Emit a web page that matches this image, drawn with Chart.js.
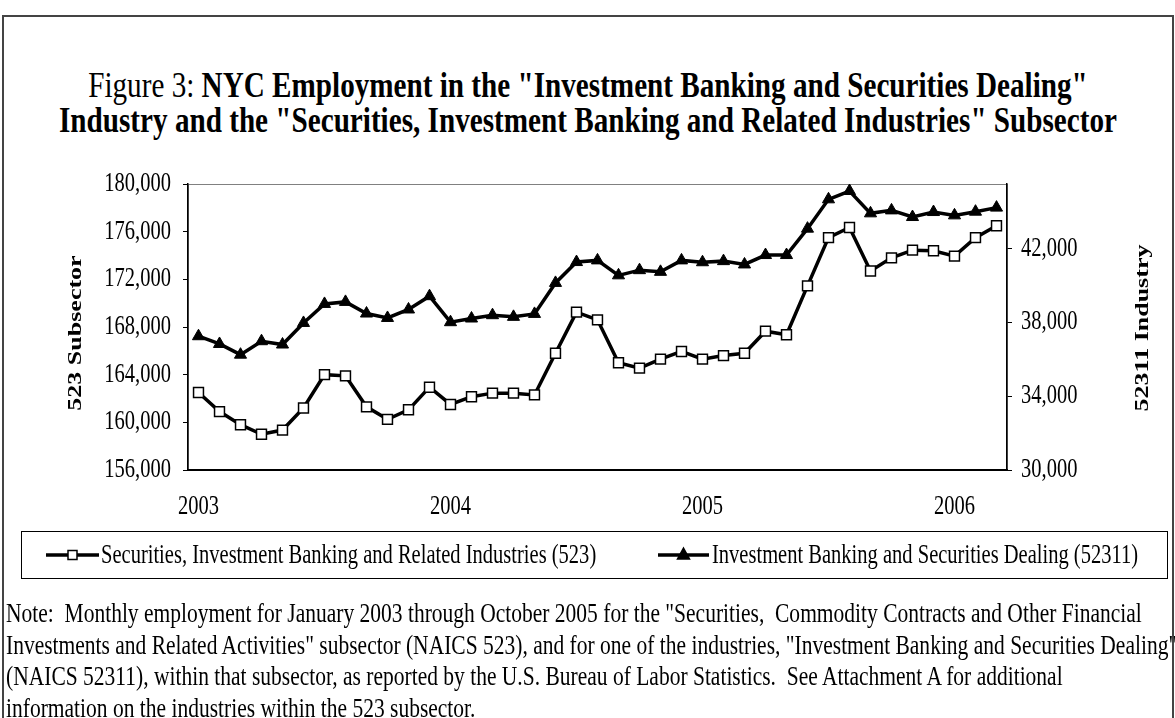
<!DOCTYPE html>
<html>
<head>
<meta charset="utf-8">
<script src="https://cdn.jsdelivr.net/npm/chart.js@4/dist/chart.umd.min.js"></script>
<style>
  html, body { margin: 0; padding: 0; background: #fff; }
  #page { position: relative; width: 1175px; height: 718px; overflow: hidden; font-family: "Liberation Serif", "Times New Roman", serif; color: #000; }
  #frame { position: absolute; left: 2px; top: 15px; width: 1168px; height: 720px; border: 2px solid #444; }
  #title { position: absolute; left: 588px; top: 68px; white-space: nowrap; text-align: center; font-size: 36px; line-height: 35px; font-weight: bold; transform: translateX(-50%) scaleX(0.81); }
  #title .plain { font-weight: normal; }
  #note { position: absolute; left: 6px; top: 597px; font-size: 28px; line-height: 31.5px; white-space: pre; transform: scaleX(0.768); transform-origin: left top; }
  #chart { position: absolute; left: 0; top: 0; }
</style>
</head>
<body>
<div id="page">
  <div id="frame"></div>
  <div id="title"><span class="plain">Figure 3: </span>NYC Employment in the "Investment Banking and Securities Dealing"<br>Industry and the "Securities, Investment Banking and Related Industries" Subsector</div>
  <canvas id="chart" width="1175" height="718"></canvas>
  <div id="note">Note:  Monthly employment for January 2003 through October 2005 for the "Securities,  Commodity Contracts and Other Financial
Investments and Related Activities" subsector (NAICS 523), and for one of the industries, "Investment Banking and Securities Dealing"
(NAICS 52311), within that subsector, as reported by the U.S. Bureau of Labor Statistics.  See Attachment A for additional
information on the industries within the 523 subsector.</div>
</div>

<script>
const months = [
    'Jan 2003', 'Feb 2003', 'Mar 2003', 'Apr 2003', 'May 2003', 'Jun 2003', 'Jul 2003', 'Aug 2003', 'Sep 2003', 'Oct 2003', 'Nov 2003', 'Dec 2003',
    'Jan 2004', 'Feb 2004', 'Mar 2004', 'Apr 2004', 'May 2004', 'Jun 2004', 'Jul 2004', 'Aug 2004', 'Sep 2004', 'Oct 2004', 'Nov 2004', 'Dec 2004',
    'Jan 2005', 'Feb 2005', 'Mar 2005', 'Apr 2005', 'May 2005', 'Jun 2005', 'Jul 2005', 'Aug 2005', 'Sep 2005', 'Oct 2005', 'Nov 2005', 'Dec 2005',
    'Jan 2006', 'Feb 2006', 'Mar 2006'
];
const yearLabels = ['2003', '2004', '2005', '2006'];
const leftTicks = [156000, 160000, 164000, 168000, 172000, 176000, 180000];
const rightTicks = [30000, 34000, 38000, 42000];

// 523 subsector, left axis
const subsector523 = [
    162500, 160900, 159800, 159000, 159350, 161200, 164000, 163900, 161300, 160250, 161050, 162950,
    161500, 162150, 162450, 162450, 162300, 165800, 169250, 168600, 165000, 164550, 165300, 165950,
    165300, 165600, 165800, 167650, 167350, 171450, 175500, 176350, 172700, 173800, 174450, 174400,
    173950, 175500, 176500
];
// 52311 industry, right axis
const industry52311 = [
    37250, 36830, 36250, 36980, 36800, 37970, 39000, 39110, 38480, 38240, 38700, 39420,
    38010, 38210, 38390, 38300, 38460, 40140, 41270, 41360, 40550, 40830, 40740, 41360,
    41260, 41320, 41140, 41650, 41650, 43080, 44670, 45120, 43910, 44070, 43710, 43980,
    43800, 44000, 44220
];

const seriesNames = [
    'Securities, Investment Banking and Related Industries (523)',
    'Investment Banking and Securities Dealing (52311)'
];
const leftTitle = '523 Subsector';
const rightTitle = '52311 Industry';

const serif = '"Liberation Serif", "Times New Roman", serif';
const tickFont = { family: serif, size: 27 };

// the source draws its text narrow: squeeze every canvas string sideways
const SX = 0.76;
const canvas = document.getElementById('chart');
const ctx2d = canvas.getContext('2d');
const baseFillText = ctx2d.fillText;
ctx2d.fillText = function (text, x, y, maxWidth) {
    const m = this.getTransform();
    const p = m.transformPoint(new DOMPoint(x, y));
    this.save();
    this.setTransform(SX, 0, 0, 1, p.x * (1 - SX), 0);
    this.transform(m.a, m.b, m.c, m.d, m.e, m.f);
    if (maxWidth === undefined) baseFillText.call(this, text, x, y);
    else baseFillText.call(this, text, x, y, maxWidth);
    this.restore();
};

// plot frame, axis titles and the boxed legend
const extras = {
    id: 'extras',
    beforeDraw(chart) {
        const { ctx, chartArea: a } = chart;
        ctx.save();
        ctx.strokeStyle = '#808080';
        ctx.lineWidth = 1;
        ctx.strokeRect(a.left + 0.5, a.top + 0.5, a.right - a.left, a.bottom - a.top);
        ctx.restore();
    },
    afterDraw(chart) {
        const ctx = chart.ctx;
        ctx.save();
        ctx.fillStyle = '#000';
        ctx.font = 'bold 26px ' + serif;
        ctx.textAlign = 'center';
        ctx.textBaseline = 'middle';
        [[76, 333, leftTitle], [1143, 328, rightTitle]].forEach(([x, y, t]) => {
            ctx.save();
            ctx.translate(x, y);
            ctx.rotate(-Math.PI / 2);
            ctx.fillText(t, 0, 0);
            ctx.restore();
        });

        // legend
        ctx.strokeStyle = '#000';
        ctx.lineWidth = 1;
        ctx.strokeRect(21.5, 531.5, 1146, 47);
        const ly = 555;
        ctx.font = '27px ' + serif;
        ctx.textAlign = 'left';
        const items = [[46, 99, 101], [658, 709, 712]];
        items.forEach(([x0, x1, tx], i) => {
            const ds = chart.data.datasets[i];
            ctx.strokeStyle = '#000';
            ctx.lineWidth = 3.5;
            ctx.beginPath();
            ctx.moveTo(x0, ly);
            ctx.lineTo(x1, ly);
            ctx.stroke();
            const mx = (x0 + x1) / 2;
            ctx.lineWidth = 1.5;
            ctx.beginPath();
            if (ds.pointStyle === 'rect') {
                ctx.rect(mx - 4.5, ly - 4.5, 9, 9);
                ctx.fillStyle = '#fff';
            } else {
                ctx.moveTo(mx, ly - 7);
                ctx.lineTo(mx + 6, ly + 4);
                ctx.lineTo(mx - 6, ly + 4);
                ctx.closePath();
                ctx.fillStyle = '#000';
            }
            ctx.fill();
            ctx.stroke();
            ctx.fillStyle = '#000';
            ctx.fillText(ds.label, tx, ly + 1);
        });
        ctx.restore();
    }
};

new Chart(canvas, {
    type: 'line',
    data: {
        labels: months,
        datasets: [{
            label: seriesNames[0],
            data: subsector523,
            yAxisID: 'y',
            borderColor: '#000',
            borderWidth: 3.5,
            pointStyle: 'rect',
            pointRadius: 7,
            pointBorderWidth: 1.5,
            pointBackgroundColor: '#fff',
            pointBorderColor: '#000',
            tension: 0
        }, {
            label: seriesNames[1],
            data: industry52311,
            yAxisID: 'y1',
            borderColor: '#000',
            borderWidth: 3.5,
            pointStyle: 'triangle',
            pointRadius: 7,
            pointBorderWidth: 1,
            pointBackgroundColor: '#000',
            pointBorderColor: '#000',
            tension: 0
        }]
    },
    options: {
        responsive: false,
        animation: false,
        devicePixelRatio: 1,
        layout: { padding: { top: 184, left: 0, right: 0, bottom: 187 } },
        plugins: { legend: { display: false }, tooltip: { enabled: false } },
        scales: {
            x: {
                offset: true,
                grid: { display: false, drawTicks: false },
                border: { display: true, color: '#000', width: 2 },
                ticks: {
                    autoSkip: false, maxRotation: 0, padding: 21, color: '#000', font: tickFont,
                    callback: (v, i) => {
                        const y = months[i].slice(4);
                        return months[i].startsWith('Jan') && yearLabels.includes(y) ? y : '';
                    }
                },
                afterFit: s => { s.height = 61; }
            },
            y: {
                position: 'left',
                min: 156000, max: 180000,
                grid: { drawOnChartArea: false, drawTicks: true, tickLength: 5, color: '#000' },
                border: { display: true, color: '#000', width: 1.5 },
                ticks: { padding: 12, color: '#000', font: tickFont,
                    callback: v => v.toLocaleString('en-US') },
                afterBuildTicks: s => { s.ticks = leftTicks.map(v => ({ value: v })); },
                afterFit: s => { s.width = 188; }
            },
            y1: {
                position: 'right',
                min: 30000, max: 45500,
                grid: { drawOnChartArea: false, drawTicks: true, tickLength: 5, color: '#000' },
                border: { display: true, color: '#000', width: 1.5 },
                ticks: { padding: 9, color: '#000', font: tickFont,
                    callback: v => v.toLocaleString('en-US') },
                afterBuildTicks: s => { s.ticks = rightTicks.map(v => ({ value: v })); },
                afterFit: s => { s.width = 168; }
            }
        }
    },
    plugins: [extras]
});
</script>
</body>
</html>
